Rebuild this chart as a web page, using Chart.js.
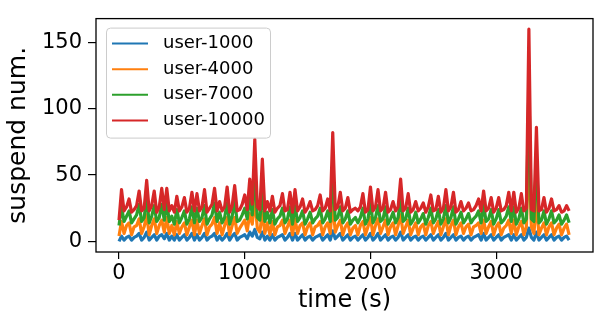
<!DOCTYPE html>
<html><head><meta charset="utf-8">
<script src="https://cdn.jsdelivr.net/npm/chart.js@4/dist/chart.umd.min.js"></script>
<style>html,body{margin:0;padding:0;background:#fff;}canvas{display:block;}</style>
</head><body>
<canvas id="c" width="598" height="321"></canvas>
<script>
// time (s) sampling grid
const times = [
0,20,40,60,80,100,120,140,160,180,
200,220,240,260,280,300,320,340,360,380,
400,420,440,460,480,500,520,540,560,580,
600,620,640,660,680,700,720,740,760,780,
800,820,840,860,880,900,920,940,960,980,
1000,1020,1040,1060,1080,1100,1120,1140,1160,1180,
1200,1220,1240,1260,1280,1300,1320,1340,1360,1380,
1400,1420,1440,1460,1480,1500,1520,1540,1560,1580,
1600,1620,1640,1660,1680,1700,1720,1740,1760,1780,
1800,1820,1840,1860,1880,1900,1920,1940,1960,1980,
2000,2020,2040,2060,2080,2100,2120,2140,2160,2180,
2200,2220,2240,2260,2280,2300,2320,2340,2360,2380,
2400,2420,2440,2460,2480,2500,2520,2540,2560,2580,
2600,2620,2640,2660,2680,2700,2720,2740,2760,2780,
2800,2820,2840,2860,2880,2900,2920,2940,2960,2980,
3000,3020,3040,3060,3080,3100,3120,3140,3160,3180,
3200,3220,3240,3260,3280,3300,3320,3340,3360,3380,
3400,3420,3440,3460,3480,3500,3520,3540,3560,3580
];
const seriesNames = ['user-1000','user-4000','user-7000','user-10000'];
const user1000 = [
0,4,1,3,4,1,3,4,6,1,
3,7,1,3,5,1,4,5,2,6,
1,4,1,5,1,3,5,1,3,6,
1,5,1,3,6,1,3,4,6,1,
4,1,3,6,1,4,6,1,3,4,
5,2,7,4,9,3,2,7,1,4,
1,5,1,3,4,5,1,3,6,1,
6,1,3,5,1,3,4,1,3,4,
5,1,3,5,1,8,2,4,6,1,
3,5,1,3,4,1,3,5,1,3,
6,1,3,6,1,3,5,1,3,4,
1,3,7,1,3,5,1,3,4,1,
3,4,1,3,5,1,3,5,1,3,
6,1,3,5,1,3,4,1,3,4,
1,3,4,5,1,6,1,3,5,1,
3,5,1,3,4,5,1,5,1,3,
5,1,3,10,3,1,7,1,3,5,
1,3,5,1,3,4,1,3,4,1
];
const user4000 = [
4,15,6,12,14,5,11,12,17,6,
11,20,5,12,17,6,12,16,7,18,
6,12,5,15,6,11,14,5,11,16,
5,16,6,12,17,5,11,13,18,6,
14,5,12,18,5,12,18,6,10,13,
16,8,21,13,33,10,7,22,6,14,
5,15,5,11,12,16,6,11,16,5,
17,6,12,14,5,11,14,5,11,12,
15,5,11,14,6,30,7,12,16,5,
11,14,5,10,12,5,12,15,5,11,
18,5,12,17,6,11,16,5,11,14,
5,12,20,6,11,16,5,10,14,5,
11,13,5,12,15,6,11,15,5,11,
17,5,12,16,5,11,14,6,11,13,
5,11,12,14,6,16,6,11,15,5,
11,14,5,10,12,16,6,16,5,11,
15,5,11,68,11,6,30,5,10,14,
5,11,14,5,10,13,5,10,13,5
];
const user7000 = [
12,26,15,19,23,14,17,20,28,15,
18,33,14,19,27,15,18,28,16,29,
15,19,13,24,14,18,23,13,17,26,
14,25,15,18,27,13,17,20,29,15,
22,14,18,29,13,19,30,15,16,20,
25,17,34,20,54,18,16,39,15,22,
14,24,13,17,19,25,14,17,26,13,
27,15,18,23,13,17,22,14,17,19,
25,14,17,23,15,53,16,18,26,14,
17,23,13,16,18,14,18,25,13,17,
29,14,18,27,15,17,26,13,17,22,
14,18,33,15,17,25,13,16,22,14,
17,21,13,18,25,14,17,24,13,17,
27,14,18,26,13,17,22,14,17,21,
14,17,19,23,14,27,15,17,24,13,
17,24,14,16,19,26,15,26,13,17,
25,14,17,117,17,15,62,14,16,23,
13,17,23,14,16,20,13,16,20,14
];
const user10000 = [
16,39,23,26,32,22,24,27,38,23,
25,46,23,27,38,22,26,40,24,40,
23,27,22,34,23,26,33,22,25,37,
23,36,23,26,39,22,25,28,40,23,
30,23,26,41,22,27,42,23,24,28,
35,24,47,28,77,26,24,62,23,30,
23,34,22,25,27,36,23,24,37,22,
39,23,26,32,22,25,30,23,24,27,
35,23,25,32,23,82,24,26,37,23,
25,33,22,24,25,23,26,36,22,24,
41,23,26,39,23,25,37,22,24,30,
23,26,47,23,25,36,22,24,30,23,
25,29,22,26,35,23,24,34,22,25,
39,23,26,37,22,24,30,23,25,29,
23,24,27,32,23,38,23,25,33,22,
25,33,23,24,27,37,23,37,22,25,
36,23,25,160,24,23,86,23,24,33,
22,25,32,23,24,27,22,23,27,23
];
const colors = ['#1f77b4','#ff7f0e','#2ca02c','#d62728'];
const xTicks = [0,1000,2000,3000];
const yTicks = [0,50,100,150];

const seriesValues = [user1000, user4000, user7000, user10000];
const datasets = seriesValues.map((vals, i) => ({
  label: seriesNames[i],
  data: vals.map((v, k) => ({x: times[k], y: v})),
  borderColor: colors[i],
  backgroundColor: colors[i],
  borderWidth: 3.2,
  borderJoinStyle: 'round',
  pointRadius: 0,
  tension: 0,
  fill: false,
  order: seriesValues.length - i
}));

Chart.defaults.font.family = 'DejaVu Sans';
Chart.defaults.color = '#000';

const framePlugin = {
  id: 'frameLegend',
  afterDatasetsDraw(chart) {
    const {ctx, chartArea: a} = chart;
    ctx.save();
    ctx.strokeStyle = '#000';
    ctx.lineWidth = 1.3;
    ctx.strokeRect(a.left, a.top, a.right - a.left, a.bottom - a.top);
    // legend box
    const lx = a.left + 10, ly = a.top + 9, lw = 164, lh = 110;
    ctx.beginPath();
    ctx.roundRect(lx + 0.5, ly + 0.5, lw, lh, 4);
    ctx.fillStyle = 'rgba(255,255,255,0.8)';
    ctx.fill();
    ctx.strokeStyle = '#cccccc';
    ctx.lineWidth = 1;
    ctx.stroke();
    ctx.font = '18px "DejaVu Sans"';
    ctx.textBaseline = 'middle';
    ctx.textAlign = 'left';
    chart.data.datasets.forEach((ds, i) => {
      const y = ly + 16 + i * 25.6;
      ctx.strokeStyle = ds.borderColor;
      ctx.lineWidth = 2;
      ctx.beginPath();
      ctx.moveTo(lx + 6, y);
      ctx.lineTo(lx + 42, y);
      ctx.stroke();
      ctx.fillStyle = '#000';
      ctx.fillText(ds.label, lx + 57, y);
    });
    ctx.restore();
  }
};

new Chart(document.getElementById('c'), {
  type: 'line',
  data: { datasets },
  options: {
    responsive: false,
    animation: false,
    devicePixelRatio: 1,
    events: [],
    layout: { padding: { left: 0, right: 5, top: 4, bottom: 0 } },
    plugins: { legend: { display: false }, tooltip: { enabled: false } },
    scales: {
      x: {
        type: 'linear',
        min: -183, max: 3770,
        afterBuildTicks: s => { s.ticks = xTicks.map(v => ({value: v})); },
        afterFit: s => { s.height = 69; },
        ticks: { font: { size: 21 }, padding: 2, maxRotation: 0, callback: v => String(v) },
        grid: { drawOnChartArea: false, drawTicks: true, tickLength: 7, color: '#000', lineWidth: 1.2 },
        border: { display: false },
        title: { display: true, text: 'time (s)', font: { size: 24 }, padding: { top: 0, bottom: 6 } }
      },
      y: {
        type: 'linear',
        min: -8, max: 168,
        afterBuildTicks: s => { s.ticks = yTicks.map(v => ({value: v})); },
        afterFit: s => { s.width = 96; },
        ticks: { font: { size: 21 }, padding: 6, callback: v => String(v) },
        grid: { drawOnChartArea: false, drawTicks: true, tickLength: 8, color: '#000', lineWidth: 1.2 },
        border: { display: false },
        title: { display: true, text: 'suspend num.', font: { size: 25 }, padding: { top: 3, bottom: 0 } }
      }
    }
  },
  plugins: [framePlugin]
});
</script>
</body></html>
